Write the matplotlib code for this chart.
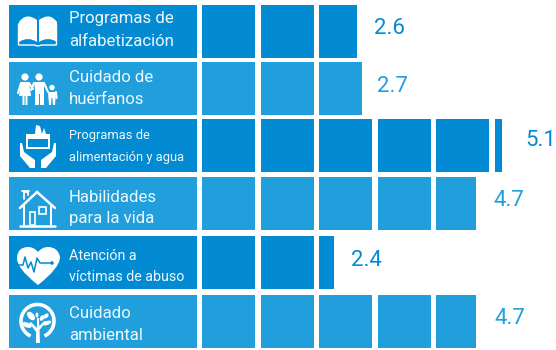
import matplotlib
matplotlib.use('Agg')
import matplotlib.pyplot as plt
from matplotlib.patches import Circle, Ellipse, Polygon, Rectangle, PathPatch, Arc
from matplotlib.path import Path

# datos
categories = [
    'Programas de\nalfabetización',
    'Cuidado de\nhuérfanos',
    'Programas de\nalimentación y agua',
    'Habilidades\npara la vida',
    'Atención a\nvíctimas de abuso',
    'Cuidado\nambiental',
]
values = [2.6, 2.7, 5.1, 4.7, 2.4, 4.7]
# ancho del ultimo cuadro, tal como esta dibujado (no es exactamente el decimal)
last_fill = [0.72, 0.81, 0.13, 0.75, 0.28, 0.75]

DARK = '#028bd3'
LIGHT = '#209fdc'
colors = [DARK, LIGHT, DARK, LIGHT, DARK, LIGHT]

row_top = [5, 62, 119, 177, 236, 295]
ROW_H = 53
START = 202
UNIT = 53
GAP = 5.6
label_size = [12.1, 12.1, 9.3, 12.1, 10.3, 12.1]
line1_dy = [14, 15, 17, 20, 20, 19]
line2_dy = [36, 37, 38, 42, 41, 41]
value_dx = [17, 15, 23, 17, 17, 18]
value_dy = [23, 25, 22, 23, 25, 23]

plt.rcParams['font.family'] = ['Roboto', 'DejaVu Sans']

fig = plt.figure(figsize=(5.56, 3.5), dpi=100)
ax = fig.add_axes([0, 0, 1, 1])
ax.set_xlim(0, 556)
ax.set_ylim(350, 0)
ax.axis('off')


def white_poly(pts):
    ax.add_patch(Polygon(pts, closed=True, fc='white', ec='none', zorder=3))


def white_line(xs, ys, lw=1.5):
    ax.plot(xs, ys, color='white', lw=lw, zorder=3, solid_capstyle='round', solid_joinstyle='miter')


def draw_book():
    for a, b in [(19, 37), (57, 39)]:
        verts = [(a, 22), (a + (b - a) * 0.4, 12), (b, 20), (b, 20), (b, 42), (b, 42),
                 (a + (b - a) * 0.5, 36), (a, 42), (a, 42), (a, 22)]
        codes = [Path.MOVETO, Path.CURVE3, Path.CURVE3, Path.LINETO, Path.LINETO, Path.LINETO,
                 Path.CURVE3, Path.CURVE3, Path.LINETO, Path.CLOSEPOLY]
        ax.add_patch(PathPatch(Path(verts, codes), fc='white', ec='none', zorder=3))
    white_line([18.5, 18.5, 34, 38, 42, 56.5, 56.5], [24, 45, 45, 46, 45, 45, 24], lw=1)


def draw_family():
    ax.add_patch(Circle((25, 77), 3.6, fc='white', ec='none', zorder=3))
    white_poly([(21, 82), (29, 82), (31, 96), (27.5, 96), (27.5, 105), (25.5, 105), (25.5, 96),
                (24.5, 96), (24.5, 105), (22.5, 105), (22.5, 96), (19, 96)])
    white_line([21, 18], [83, 93])
    white_line([29, 33], [83, 89])
    ax.add_patch(Circle((39, 77), 3.6, fc='white', ec='none', zorder=3))
    white_poly([(34, 82), (44, 82), (44, 105), (40, 105), (40, 94), (38.5, 94), (38.5, 105),
                (35, 105), (35, 90)])
    white_line([34, 31], [83, 90])
    white_line([44, 48], [83, 92])
    ax.add_patch(Circle((52, 87.5), 2.7, fc='white', ec='none', zorder=3))
    white_poly([(48, 92), (56, 92), (55, 105), (52.8, 105), (52.5, 98), (51.5, 98), (51, 105),
                (49, 105)])
    white_line([56, 56.5], [92, 98])


def draw_hands():
    ax.add_patch(Rectangle((27, 138), 22, 10, fc='none', ec='white', lw=1.4, zorder=3))
    white_poly([(26, 134), (50, 134), (50, 138), (26, 138)])
    white_poly([(36, 125), (40, 126), (42, 134), (35, 134)])
    white_poly([(42, 134), (44, 128), (46, 134)])
    # manos
    white_poly([(20, 143), (22, 143), (24, 152), (35, 160), (35, 168), (30, 168), (20, 156)])
    white_poly([(56, 143), (54, 143), (52, 152), (41, 160), (41, 168), (46, 168), (56, 156)])


def draw_house():
    white_line([20, 37, 55], [208, 192, 208], lw=1.8)
    white_line([24, 24, 28, 28], [199, 192, 192, 195], lw=1.3)
    white_line([22, 29], [191, 191], lw=1.3)
    white_line([24, 24], [205, 225], lw=1.4)
    white_line([51, 51], [205, 225], lw=1.4)
    white_line([20, 55], [226, 226], lw=1.8)
    ax.add_patch(Rectangle((29.5, 212), 5, 13, fc='none', ec='white', lw=1.2, zorder=3))
    ax.add_patch(Rectangle((39, 207), 6.5, 7, fc='none', ec='white', lw=1.2, zorder=3))


def draw_heart():
    verts = [(38, 285), (16, 268), (17, 257), (18, 247), (28, 247), (34, 247), (38, 252),
             (42, 247), (48, 247), (58, 247), (60, 257), (60, 268), (38, 285), (38, 285)]
    codes = [Path.MOVETO, Path.CURVE3, Path.CURVE3, Path.CURVE3, Path.CURVE3, Path.CURVE3, Path.CURVE3,
             Path.CURVE3, Path.CURVE3, Path.CURVE3, Path.CURVE3, Path.CURVE3, Path.CURVE3, Path.CLOSEPOLY]
    ax.add_patch(PathPatch(Path(verts, codes), fc='white', ec='none', zorder=3))
    ax.plot([17, 23, 25, 28, 31, 34, 37, 40, 52],
            [265, 265, 257, 268, 262, 272, 258, 263, 263],
            color=DARK, lw=1.1, zorder=4)
    ax.add_patch(Circle((52, 263), 1.8, fc=DARK, ec='none', zorder=4))


def draw_tree():
    ax.add_patch(Arc((37.5, 321), 33, 33, theta1=115, theta2=65, ec='white', lw=2.6, zorder=3))
    white_poly([(36, 343), (40, 343), (39.5, 330), (46, 322), (44.5, 321), (39.3, 326), (39, 318),
                (37, 318), (37, 328), (31, 322), (29.5, 323), (36, 332)])
    for xy, w, h, ang in [((31, 316), 10, 6, 50), ((27, 325), 10, 5, 20), ((42, 318), 6, 4, -60),
                          ((46, 316), 6, 4, -45), ((47, 323), 9, 4, -20), ((37, 315), 3, 5, 0)]:
        ax.add_patch(Ellipse(xy, w, h, angle=ang, fc='white', ec='none', zorder=3))


icons = [draw_book, draw_family, draw_hands, draw_house, draw_heart, draw_tree]

for i, cat in enumerate(categories):
    top = row_top[i]
    # bloque de la etiqueta
    ax.barh(top, 188, height=ROW_H, left=9, align='edge', color=colors[i], zorder=1)
    icons[i]()

    a, b = cat.split('\n')
    ax.text(69, top + line1_dy[i], a, fontsize=label_size[i], color='#eef7fc', va='center', ha='left', zorder=3)
    ax.text(69, top + line2_dy[i], b, fontsize=label_size[i], color='#eef7fc', va='center', ha='left', zorder=3)

    # cuadros del pictograma
    n_full = int(values[i])
    left = START
    end = START
    for k in range(n_full + 1):
        w = UNIT if k < n_full else UNIT * last_fill[i]
        left = START + k * (UNIT + GAP)
        ax.barh(top, w, height=ROW_H, left=left, align='edge', color=colors[i], zorder=1)
        end = left + w

    ax.text(end + value_dx[i], top + value_dy[i], f'{values[i]:.1f}', fontsize=16, color=colors[i],
            va='center', ha='left', zorder=3)

fig.savefig('out.png', dpi=100)
